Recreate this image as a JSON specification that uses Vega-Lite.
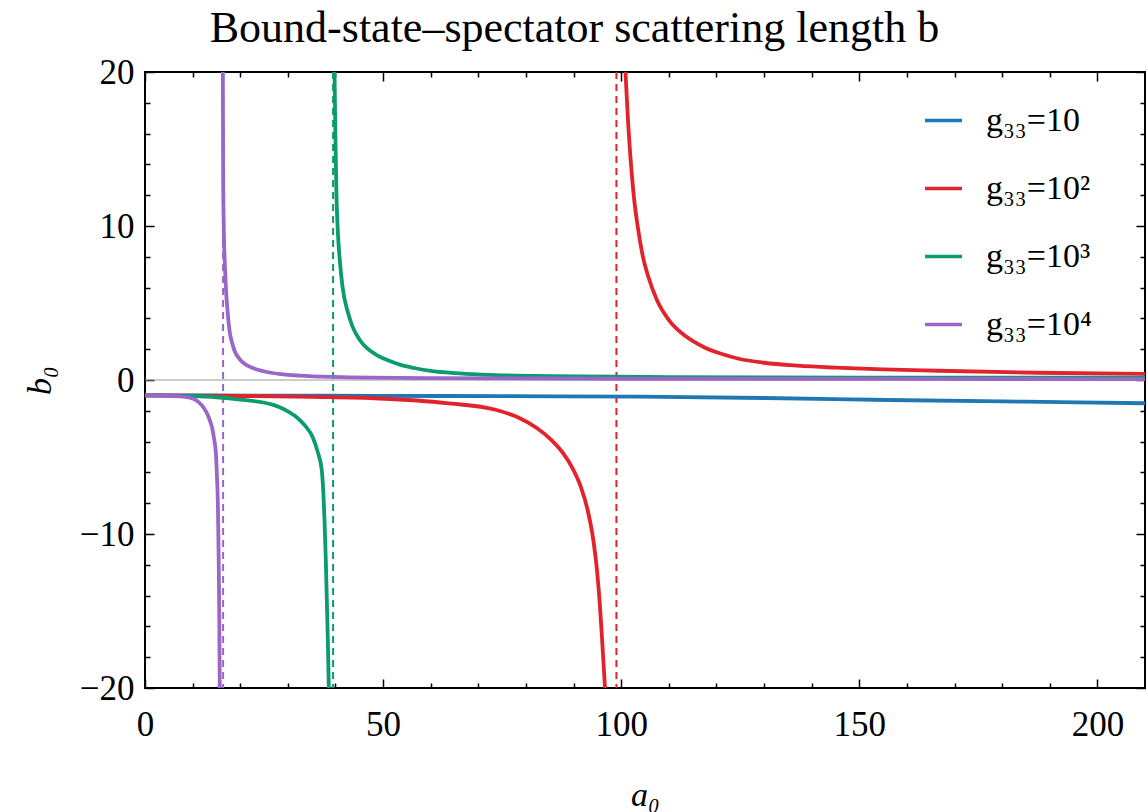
{
  "$schema": "https://vega.github.io/schema/vega-lite/v6.json",
  "autosize": {"type": "none"},
  "width": 1000,
  "height": 616,
  "padding": {"left": 145, "top": 72, "right": 3, "bottom": 124},
  "background": "white",
  "config": {
    "view": {"stroke": "black", "strokeWidth": 2},
    "font": "Liberation Serif"
  },
  "title": {
    "text": "Bound-state–spectator scattering length b",
    "font": "Liberation Serif",
    "fontSize": 44,
    "fontWeight": "normal",
    "color": "black",
    "anchor": "middle",
    "frame": "bounds",
    "baseline": "alphabetic",
    "offset": -31,
    "dx": -10
  },
  "datasets": {
    "curves": [
      {"s": "g₃₃=10", "seg": "b1", "a": 0, "b": -1.0},
      {"s": "g₃₃=10", "seg": "b1", "a": 25, "b": -1.01},
      {"s": "g₃₃=10", "seg": "b1", "a": 50, "b": -1.03},
      {"s": "g₃₃=10", "seg": "b1", "a": 75, "b": -1.05},
      {"s": "g₃₃=10", "seg": "b1", "a": 104, "b": -1.08},
      {"s": "g₃₃=10", "seg": "b1", "a": 130, "b": -1.17},
      {"s": "g₃₃=10", "seg": "b1", "a": 156, "b": -1.3},
      {"s": "g₃₃=10", "seg": "b1", "a": 185, "b": -1.41},
      {"s": "g₃₃=10", "seg": "b1", "a": 210, "b": -1.51},

      {"s": "g₃₃=10²", "seg": "r1", "a": 0, "b": -1.0},
      {"s": "g₃₃=10²", "seg": "r1", "a": 20, "b": -1.04},
      {"s": "g₃₃=10²", "seg": "r1", "a": 35, "b": -1.1},
      {"s": "g₃₃=10²", "seg": "r1", "a": 49.3, "b": -1.2},
      {"s": "g₃₃=10²", "seg": "r1", "a": 63.3, "b": -1.5},
      {"s": "g₃₃=10²", "seg": "r1", "a": 73.8, "b": -1.95},
      {"s": "g₃₃=10²", "seg": "r1", "a": 78.5, "b": -2.45},
      {"s": "g₃₃=10²", "seg": "r1", "a": 82.2, "b": -3.1},
      {"s": "g₃₃=10²", "seg": "r1", "a": 85.2, "b": -3.85},
      {"s": "g₃₃=10²", "seg": "r1", "a": 87.8, "b": -4.75},
      {"s": "g₃₃=10²", "seg": "r1", "a": 89.9, "b": -5.8},
      {"s": "g₃₃=10²", "seg": "r1", "a": 91.6, "b": -7.0},
      {"s": "g₃₃=10²", "seg": "r1", "a": 93.0, "b": -8.5},
      {"s": "g₃₃=10²", "seg": "r1", "a": 94.1, "b": -10.3},
      {"s": "g₃₃=10²", "seg": "r1", "a": 94.9, "b": -12.3},
      {"s": "g₃₃=10²", "seg": "r1", "a": 95.5, "b": -14.5},
      {"s": "g₃₃=10²", "seg": "r1", "a": 96.0, "b": -16.9},
      {"s": "g₃₃=10²", "seg": "r1", "a": 96.6, "b": -20},
      {"s": "g₃₃=10²", "seg": "r2", "a": 100.9, "b": 20},
      {"s": "g₃₃=10²", "seg": "r2", "a": 101.4, "b": 17},
      {"s": "g₃₃=10²", "seg": "r2", "a": 102.0, "b": 14.25},
      {"s": "g₃₃=10²", "seg": "r2", "a": 102.7, "b": 11.8},
      {"s": "g₃₃=10²", "seg": "r2", "a": 103.5, "b": 9.9},
      {"s": "g₃₃=10²", "seg": "r2", "a": 104.5, "b": 8.1},
      {"s": "g₃₃=10²", "seg": "r2", "a": 105.7, "b": 6.7},
      {"s": "g₃₃=10²", "seg": "r2", "a": 107.5, "b": 5.2},
      {"s": "g₃₃=10²", "seg": "r2", "a": 110.1, "b": 3.86},
      {"s": "g₃₃=10²", "seg": "r2", "a": 113.5, "b": 2.85},
      {"s": "g₃₃=10²", "seg": "r2", "a": 117.4, "b": 2.13},
      {"s": "g₃₃=10²", "seg": "r2", "a": 121, "b": 1.7},
      {"s": "g₃₃=10²", "seg": "r2", "a": 124.7, "b": 1.38},
      {"s": "g₃₃=10²", "seg": "r2", "a": 130, "b": 1.12},
      {"s": "g₃₃=10²", "seg": "r2", "a": 137, "b": 0.93},
      {"s": "g₃₃=10²", "seg": "r2", "a": 145, "b": 0.8},
      {"s": "g₃₃=10²", "seg": "r2", "a": 155, "b": 0.69},
      {"s": "g₃₃=10²", "seg": "r2", "a": 166.7, "b": 0.6},
      {"s": "g₃₃=10²", "seg": "r2", "a": 187.6, "b": 0.47},
      {"s": "g₃₃=10²", "seg": "r2", "a": 210, "b": 0.4},

      {"s": "g₃₃=10³", "seg": "g1", "a": 0, "b": -1.0},
      {"s": "g₃₃=10³", "seg": "g1", "a": 5, "b": -1.01},
      {"s": "g₃₃=10³", "seg": "g1", "a": 10, "b": -1.04},
      {"s": "g₃₃=10³", "seg": "g1", "a": 15, "b": -1.12},
      {"s": "g₃₃=10³", "seg": "g1", "a": 20, "b": -1.27},
      {"s": "g₃₃=10³", "seg": "g1", "a": 26.8, "b": -1.6},
      {"s": "g₃₃=10³", "seg": "g1", "a": 29.5, "b": -1.95},
      {"s": "g₃₃=10³", "seg": "g1", "a": 31.8, "b": -2.4},
      {"s": "g₃₃=10³", "seg": "g1", "a": 33.7, "b": -3.0},
      {"s": "g₃₃=10³", "seg": "g1", "a": 35.2, "b": -3.7},
      {"s": "g₃₃=10³", "seg": "g1", "a": 36.3, "b": -4.7},
      {"s": "g₃₃=10³", "seg": "g1", "a": 37.1, "b": -5.8},
      {"s": "g₃₃=10³", "seg": "g1", "a": 37.45, "b": -7.3},
      {"s": "g₃₃=10³", "seg": "g1", "a": 37.7, "b": -9.1},
      {"s": "g₃₃=10³", "seg": "g1", "a": 37.95, "b": -11.5},
      {"s": "g₃₃=10³", "seg": "g1", "a": 38.2, "b": -14.5},
      {"s": "g₃₃=10³", "seg": "g1", "a": 38.4, "b": -17},
      {"s": "g₃₃=10³", "seg": "g1", "a": 38.6, "b": -20},
      {"s": "g₃₃=10³", "seg": "g2", "a": 39.8, "b": 20},
      {"s": "g₃₃=10³", "seg": "g2", "a": 40.0, "b": 15.5},
      {"s": "g₃₃=10³", "seg": "g2", "a": 40.2, "b": 12.1},
      {"s": "g₃₃=10³", "seg": "g2", "a": 40.5, "b": 9.6},
      {"s": "g₃₃=10³", "seg": "g2", "a": 40.9, "b": 7.8},
      {"s": "g₃₃=10³", "seg": "g2", "a": 41.5, "b": 6.0},
      {"s": "g₃₃=10³", "seg": "g2", "a": 42.6, "b": 4.4},
      {"s": "g₃₃=10³", "seg": "g2", "a": 43.6, "b": 3.45},
      {"s": "g₃₃=10³", "seg": "g2", "a": 45.1, "b": 2.6},
      {"s": "g₃₃=10³", "seg": "g2", "a": 46.5, "b": 2.1},
      {"s": "g₃₃=10³", "seg": "g2", "a": 48.5, "b": 1.65},
      {"s": "g₃₃=10³", "seg": "g2", "a": 51, "b": 1.28},
      {"s": "g₃₃=10³", "seg": "g2", "a": 53.5, "b": 1.0},
      {"s": "g₃₃=10³", "seg": "g2", "a": 56.5, "b": 0.78},
      {"s": "g₃₃=10³", "seg": "g2", "a": 60.4, "b": 0.58},
      {"s": "g₃₃=10³", "seg": "g2", "a": 65, "b": 0.45},
      {"s": "g₃₃=10³", "seg": "g2", "a": 70.9, "b": 0.35},
      {"s": "g₃₃=10³", "seg": "g2", "a": 85, "b": 0.25},
      {"s": "g₃₃=10³", "seg": "g2", "a": 110, "b": 0.19},
      {"s": "g₃₃=10³", "seg": "g2", "a": 150, "b": 0.16},
      {"s": "g₃₃=10³", "seg": "g2", "a": 210, "b": 0.15},

      {"s": "g₃₃=10⁴", "seg": "p1", "a": 0, "b": -1.0},
      {"s": "g₃₃=10⁴", "seg": "p1", "a": 4, "b": -1.02},
      {"s": "g₃₃=10⁴", "seg": "p1", "a": 8, "b": -1.08},
      {"s": "g₃₃=10⁴", "seg": "p1", "a": 10, "b": -1.2},
      {"s": "g₃₃=10⁴", "seg": "p1", "a": 11.2, "b": -1.42},
      {"s": "g₃₃=10⁴", "seg": "p1", "a": 12.2, "b": -1.75},
      {"s": "g₃₃=10⁴", "seg": "p1", "a": 13.3, "b": -2.35},
      {"s": "g₃₃=10⁴", "seg": "p1", "a": 13.7, "b": -2.7},
      {"s": "g₃₃=10⁴", "seg": "p1", "a": 14.1, "b": -3.1},
      {"s": "g₃₃=10⁴", "seg": "p1", "a": 14.5, "b": -3.8},
      {"s": "g₃₃=10⁴", "seg": "p1", "a": 14.9, "b": -4.8},
      {"s": "g₃₃=10⁴", "seg": "p1", "a": 15.1, "b": -6.2},
      {"s": "g₃₃=10⁴", "seg": "p1", "a": 15.3, "b": -8},
      {"s": "g₃₃=10⁴", "seg": "p1", "a": 15.4, "b": -10},
      {"s": "g₃₃=10⁴", "seg": "p1", "a": 15.5, "b": -12.3},
      {"s": "g₃₃=10⁴", "seg": "p1", "a": 15.6, "b": -15.5},
      {"s": "g₃₃=10⁴", "seg": "p1", "a": 15.7, "b": -20},
      {"s": "g₃₃=10⁴", "seg": "p2", "a": 16.35, "b": 20},
      {"s": "g₃₃=10⁴", "seg": "p2", "a": 16.42, "b": 13},
      {"s": "g₃₃=10⁴", "seg": "p2", "a": 16.55, "b": 9.8},
      {"s": "g₃₃=10⁴", "seg": "p2", "a": 16.8, "b": 7.3},
      {"s": "g₃₃=10⁴", "seg": "p2", "a": 17.0, "b": 5.9},
      {"s": "g₃₃=10⁴", "seg": "p2", "a": 17.3, "b": 4.6},
      {"s": "g₃₃=10⁴", "seg": "p2", "a": 17.8, "b": 3.1},
      {"s": "g₃₃=10⁴", "seg": "p2", "a": 18.3, "b": 2.4},
      {"s": "g₃₃=10⁴", "seg": "p2", "a": 18.8, "b": 1.9},
      {"s": "g₃₃=10⁴", "seg": "p2", "a": 19.9, "b": 1.35},
      {"s": "g₃₃=10⁴", "seg": "p2", "a": 20.9, "b": 1.05},
      {"s": "g₃₃=10⁴", "seg": "p2", "a": 22.5, "b": 0.8},
      {"s": "g₃₃=10⁴", "seg": "p2", "a": 25.6, "b": 0.52},
      {"s": "g₃₃=10⁴", "seg": "p2", "a": 28.5, "b": 0.38},
      {"s": "g₃₃=10⁴", "seg": "p2", "a": 32.5, "b": 0.28},
      {"s": "g₃₃=10⁴", "seg": "p2", "a": 39.4, "b": 0.2},
      {"s": "g₃₃=10⁴", "seg": "p2", "a": 60, "b": 0.12},
      {"s": "g₃₃=10⁴", "seg": "p2", "a": 100, "b": 0.08},
      {"s": "g₃₃=10⁴", "seg": "p2", "a": 150, "b": 0.07},
      {"s": "g₃₃=10⁴", "seg": "p2", "a": 210, "b": 0.06}
    ],
    "asym": [
      {"s": "g₃₃=10⁴", "a": 16.4},
      {"s": "g₃₃=10³", "a": 39.5},
      {"s": "g₃₃=10²", "a": 99.0}
    ],
    "zero": [{"b": 0}]
  },
  "layer": [
    {
      "data": {"name": "zero"},
      "mark": {"type": "rule", "color": "#9a9a9a", "strokeWidth": 1.2},
      "encoding": {
        "y": {
          "field": "b", "type": "quantitative",
          "scale": {"domain": [-20, 20], "nice": false, "zero": false},
          "axis": {
            "orient": "right", "labels": false, "title": null, "domain": false, "grid": false,
            "values": [-20,-18,-16,-14,-12,-10,-8,-6,-4,-2,0,2,4,6,8,10,12,14,16,18,20],
            "tickColor": "black", "tickWidth": 1.5,
            "tickSize": {"condition": {"test": "datum.value % 10 === 0", "value": -9}, "value": -5}
          }
        }
      }
    },
    {
      "data": {"name": "asym"},
      "mark": {"type": "rule", "strokeWidth": 2, "strokeDash": [7, 5]},
      "encoding": {
        "x": {
          "field": "a", "type": "quantitative",
          "scale": {"domain": [0, 210], "nice": false, "zero": false},
          "axis": {
            "orient": "top", "labels": false, "title": null, "domain": false, "grid": false,
            "values": [0,10,20,30,40,50,60,70,80,90,100,110,120,130,140,150,160,170,180,190,200],
            "tickColor": "black", "tickWidth": 1.5,
            "tickSize": {"condition": {"test": "datum.value % 50 === 0", "value": -9}, "value": -5}
          }
        },
        "color": {
          "field": "s", "type": "nominal",
          "scale": {
            "domain": ["g₃₃=10", "g₃₃=10²", "g₃₃=10³", "g₃₃=10⁴"],
            "range": ["#1f77b4", "#e2232b", "#0a9b6e", "#9a67c8"]
          },
          "legend": null
        }
      }
    },
    {
      "data": {"name": "curves"},
      "mark": {"type": "line", "strokeWidth": 3.8, "clip": true, "interpolate": "monotone"},
      "encoding": {
        "x": {
          "field": "a", "type": "quantitative",
          "scale": {"domain": [0, 210], "nice": false, "zero": false},
          "axis": {
            "orient": "bottom", "domain": false, "grid": false,
            "values": [0,10,20,30,40,50,60,70,80,90,100,110,120,130,140,150,160,170,180,190,200],
            "labelExpr": "datum.value % 50 === 0 ? datum.label : ''",
            "tickColor": "black", "tickWidth": 1.5,
            "tickSize": {"condition": {"test": "datum.value % 50 === 0", "value": -9}, "value": -5},
            "labelFont": "Liberation Serif", "labelFontSize": 35, "labelColor": "black",
            "labelPadding": 28, "labelFlush": false, "labelOverlap": false,
            "title": "a₀", "titleFont": "Liberation Serif", "titleFontSize": 34,
            "titleFontStyle": "italic", "titleFontWeight": "normal", "titleColor": "black",
            "titlePadding": 32
          }
        },
        "y": {
          "field": "b", "type": "quantitative",
          "scale": {"domain": [-20, 20], "nice": false, "zero": false},
          "axis": {
            "orient": "left", "domain": false, "grid": false,
            "values": [-20,-18,-16,-14,-12,-10,-8,-6,-4,-2,0,2,4,6,8,10,12,14,16,18,20],
            "labelExpr": "datum.value % 10 === 0 ? datum.label : ''",
            "tickColor": "black", "tickWidth": 1.5,
            "tickSize": {"condition": {"test": "datum.value % 10 === 0", "value": -9}, "value": -5},
            "labelFont": "Liberation Serif", "labelFontSize": 35, "labelColor": "black",
            "labelPadding": 20, "labelFlush": false, "labelOverlap": false,
            "title": "b₀", "titleFont": "Liberation Serif", "titleFontSize": 34,
            "titleFontStyle": "italic", "titleFontWeight": "normal", "titleColor": "black",
            "titlePadding": 22
          }
        },
        "color": {
          "field": "s", "type": "nominal",
          "scale": {
            "domain": ["g₃₃=10", "g₃₃=10²", "g₃₃=10³", "g₃₃=10⁴"],
            "range": ["#1f77b4", "#e2232b", "#0a9b6e", "#9a67c8"]
          },
          "legend": {
            "title": null, "orient": "none", "legendX": 778, "legendY": 28,
            "symbolType": "stroke", "symbolSize": 1369, "symbolStrokeWidth": 3.5,
            "labelFont": "Liberation Serif", "labelFontSize": 34, "labelColor": "black",
            "labelOffset": 22, "rowPadding": 30, "padding": 0
          }
        },
        "detail": {"field": "seg"}
      }
    }
  ],
  "resolve": {
    "axis": {"x": "independent", "y": "independent"},
    "scale": {"color": "independent"}
  }
}
